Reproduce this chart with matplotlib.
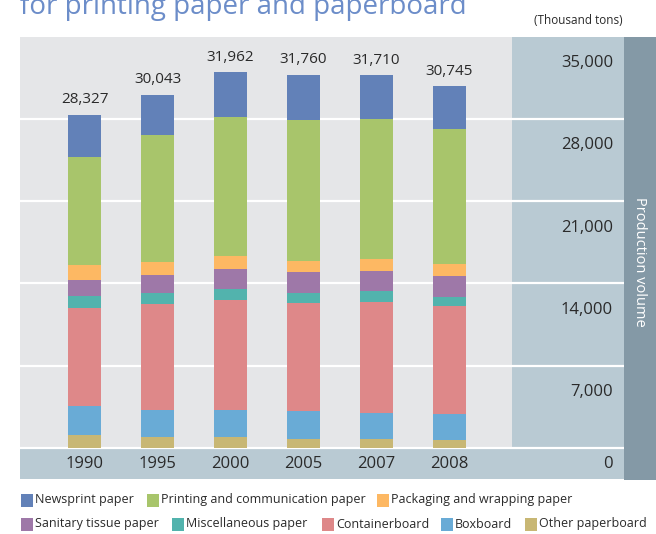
import matplotlib

matplotlib.use("Agg")
import matplotlib.pyplot as plt  # noqa: E402
from matplotlib.patches import Rectangle  # noqa: E402

W, H = 656, 534
plt.rcParams["font.family"] = ["Open Sans", "DejaVu Sans"]

years = ["1990", "1995", "2000", "2005", "2007", "2008"]
totals = [28327, 30043, 31962, 31760, 31710, 30745]

# thousand tons (bottom of stack first)
other = [1070, 930, 930, 780, 770, 690]
boxboard = [2460, 2320, 2320, 2330, 2240, 2240]
container = [8370, 9020, 9360, 9250, 9390, 9180]
misc = [1020, 910, 910, 850, 940, 770]
sanitary = [1360, 1530, 1700, 1790, 1700, 1790]
packaging = [1280, 1110, 1130, 940, 1020, 1020]
printing = [9200, 10800, 11800, 11990, 11910, 11400]
newsprint = [3570, 3420, 3810, 3830, 3740, 3660]

yticks = [0, 7000, 14000, 21000, 28000, 35000]

SERIES = [
    ("Other paperboard", other, "#C8B774"),
    ("Boxboard", boxboard, "#69ABD6"),
    ("Containerboard", container, "#DE8889"),
    ("Miscellaneous paper", misc, "#52B3AD"),
    ("Sanitary tissue paper", sanitary, "#9E78A8"),
    ("Packaging and wrapping paper", packaging, "#FDB863"),
    ("Printing and communication paper", printing, "#A8C56B"),
    ("Newsprint paper", newsprint, "#6281B8"),
]
TXT = "#2A2A2A"
GRAY_BG = "#E5E6E8"
LIGHT_BG = "#B9CAD3"
DARK_BG = "#8499A6"


def fx(x):
    return x / W


def fy(y):
    return 1 - y / H


fig = plt.figure(figsize=(W / 100, H / 100), dpi=100)

# main axes: pixels x 20..624, y 36.5..479 (0 sits at y=448)
ax = fig.add_axes([fx(20), fy(479), fx(624) - fx(20), fy(36.5) - fy(479)])
ax.set_xlim(-0.8836, 7.3904)
ax.set_ylim(-2637, 35000)
ax.set_facecolor(LIGHT_BG)
ax.add_patch(Rectangle((-0.8836, 0), 5.8562 + 0.8836, 35000, color=GRAY_BG,
                       zorder=0, lw=0))
for v in yticks[:-1]:
    ax.axhline(v, color="white", lw=1.6, zorder=1)
for s in ax.spines.values():
    s.set_visible(False)
ax.set_xticks([])
ax.set_yticks([])

x = list(range(len(years)))
bottom = [0] * len(years)
for name, vals, color in SERIES:
    ax.bar(x, vals, 0.452, bottom=bottom, color=color, lw=0, zorder=2)
    bottom = [b + v for b, v in zip(bottom, vals)]

for i, (t, top) in enumerate(zip(totals, bottom)):
    ax.text(i, top + 1280, f"{t:,}", ha="center", va="center", fontsize=11,
            color=TXT)
    ax.text(i, -1320, years[i], ha="center", va="center", fontsize=12,
            color=TXT)

for v in yticks:
    y = -1320 if v == 0 else v - 2250
    ax.text(7.2397, y, f"{v:,}", ha="right", va="center", fontsize=12,
            color=TXT)

# dark side panel
fig.add_artist(Rectangle((fx(624), fy(480)), fx(656) - fx(624),
                         fy(36.5) - fy(480), transform=fig.transFigure,
                         color=DARK_BG, lw=0))
fig.text(fx(640), fy(262), "Production volume", rotation=270, ha="center",
         va="center", fontsize=10.5, color="white")

fig.text(fx(20), fy(14), "for printing paper and paperboard", ha="left",
         va="baseline", fontsize=20, color="#6C8DC9")
fig.text(fx(623), fy(20), "(Thousand tons)", ha="right", va="center",
         fontsize=8.5, color=TXT)

# legend, laid out like the original two rows
legend_pos = {
    "Newsprint paper": (21, 500),
    "Printing and communication paper": (147, 500),
    "Packaging and wrapping paper": (377, 500),
    "Sanitary tissue paper": (21, 524),
    "Miscellaneous paper": (172, 524),
    "Containerboard": (322, 524),
    "Boxboard": (441, 524),
    "Other paperboard": (525, 524),
}
for name, vals, color in SERIES:
    lx, ly = legend_pos[name]
    fig.add_artist(Rectangle((fx(lx), fy(ly + 6.5)), fx(12), 13 / H,
                             transform=fig.transFigure, color=color, lw=0))
    fig.text(fx(lx + 14), fy(ly), name, ha="left", va="center", fontsize=9,
             color=TXT)

fig.savefig("out.png", dpi=100)
